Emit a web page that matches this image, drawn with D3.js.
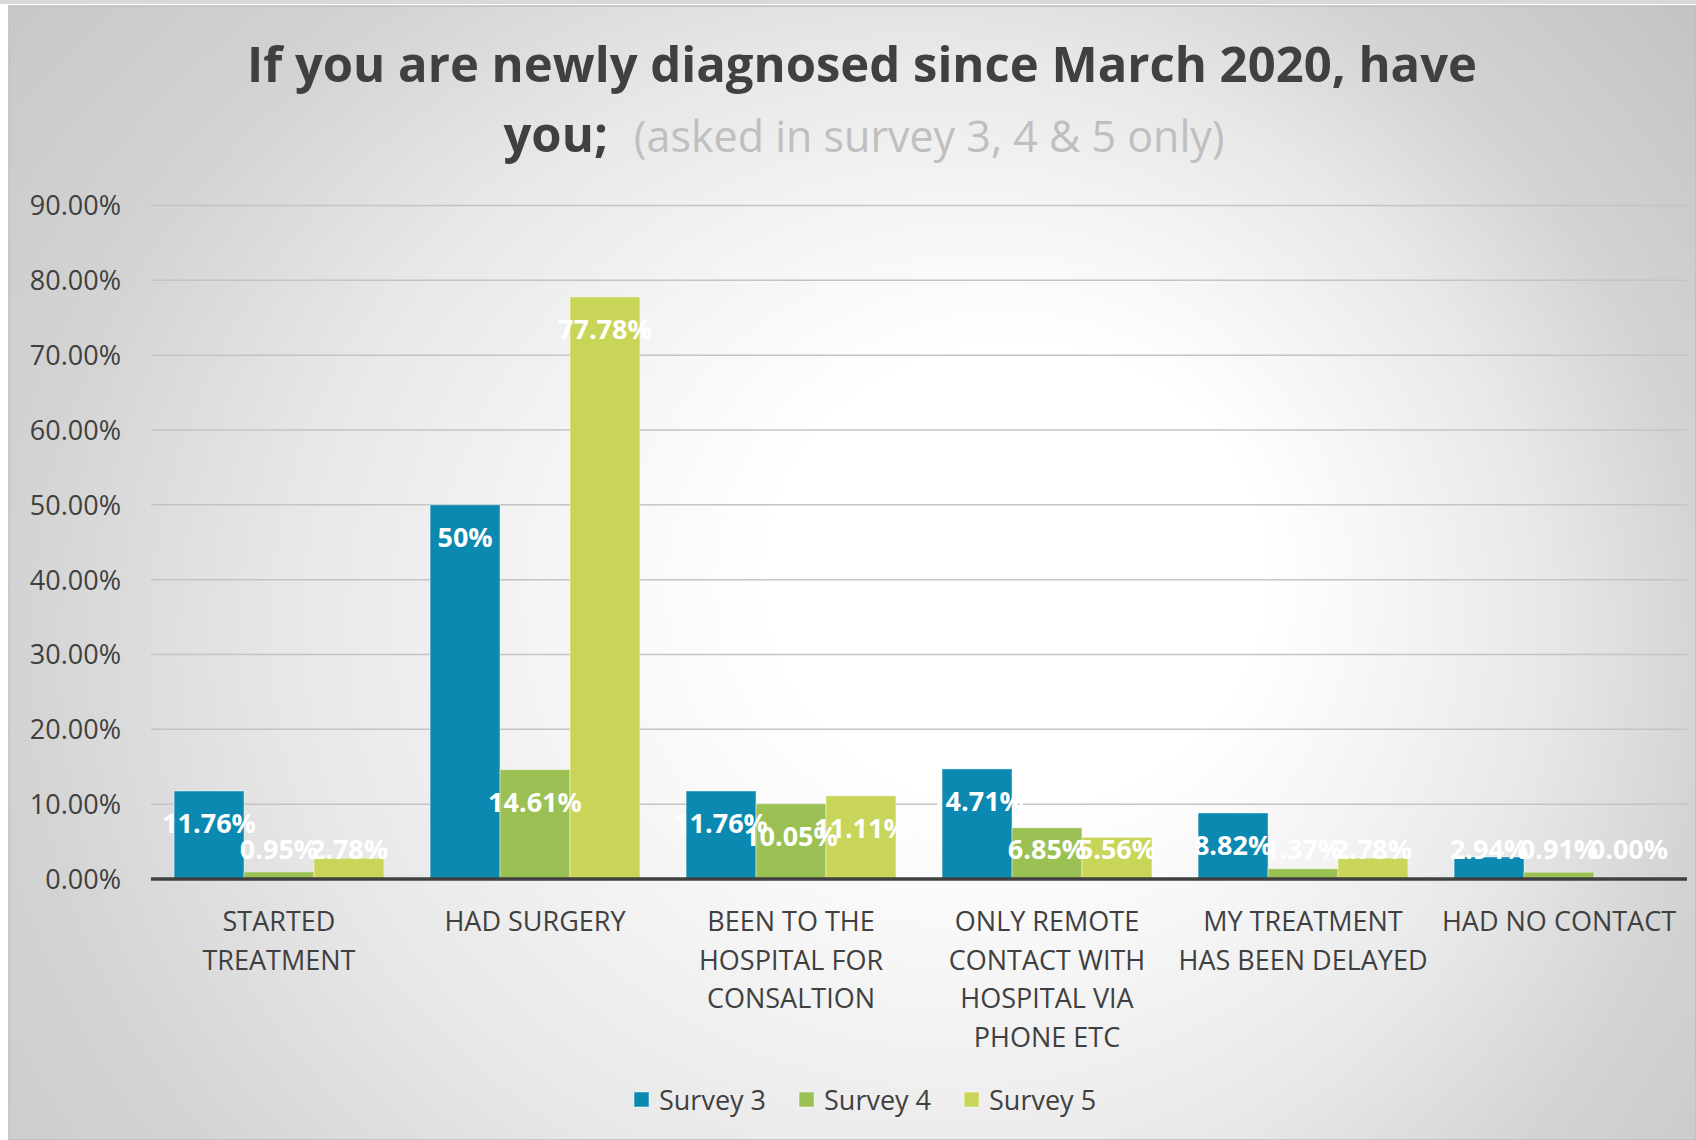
<!DOCTYPE html>
<html>
<head>
<meta charset="utf-8">
<script src="https://cdn.jsdelivr.net/npm/d3@7"></script>
<style>
  html, body { margin: 0; padding: 0; background: #ffffff; }
  svg text { font-family: "Open Sans", "Noto Sans", sans-serif; }
</style>
</head>
<body>
<svg id="chart" width="1696" height="1140"></svg>
<script>
// ---- data (percent values, kept as the strings shown on the labels) ----
const CATEGORIES = ['STARTED TREATMENT', 'HAD SURGERY', 'BEEN TO THE HOSPITAL FOR CONSALTION',
                    'ONLY REMOTE CONTACT WITH HOSPITAL VIA PHONE ETC', 'MY TREATMENT HAS BEEN DELAYED', 'HAD NO CONTACT'];
const SERIES = ['Survey 3', 'Survey 4', 'Survey 5'];
const SURVEY_3 = ['11.76', '50', '11.76', '14.71', '8.82', '2.94'];
const SURVEY_4 = ['0.95', '14.61', '10.05', '6.85', '1.37', '0.91'];
const SURVEY_5 = ['2.78', '77.78', '11.11', '5.56', '2.78', '0.00'];
const Y_TICKS = [0, 10, 20, 30, 40, 50, 60, 70, 80, 90];
const COLORS = ['#0B89B1', '#9BC154', '#C9D559'];

const W = 1696, H = 1140;
const svg = d3.select('#chart');

// background: off-centre radial light, bright spot right of middle
var defs = svg.append('defs');
var grad = defs.append('radialGradient').attr('id', 'bg')
  .attr('gradientUnits', 'userSpaceOnUse')
  .attr('cx', 760).attr('cy', 715).attr('r', 1250)
  .attr('fx', 1080).attr('fy', 525)
  .attr('gradientTransform', 'translate(760,715) scale(1,0.924) translate(-760,-715)');
[[0, '#ffffff'], [0.2, '#ffffff'], [0.35, '#f4f4f4'], [0.5, '#e8e8e8'], [0.68, '#d3d3d3'], [1, '#c0c0c0']]
  .forEach(s => grad.append('stop').attr('offset', s[0]).attr('stop-color', s[1]));

svg.append('rect').attr('x', 0).attr('y', 0).attr('width', W).attr('height', 4).attr('fill', '#d9d9d9');
svg.append('rect').attr('x', 9).attr('y', 6).attr('width', W - 9).attr('height', H - 6)
  .attr('fill', 'url(#bg)').attr('stroke', '#bdbdbd').attr('stroke-width', 1.5);

// ---- scales ----
var margin = {top: 205.5, left: 151, right: 9, bottom: 261};
var x0 = d3.scaleBand().domain(CATEGORIES).range([margin.left, W - margin.right]).paddingInner(0).paddingOuter(0);
var x1 = d3.scaleBand().domain(SERIES).range([0, x0.bandwidth()]).paddingOuter(0.33).paddingInner(0);
var y = d3.scaleLinear().domain([0, 90]).range([H - margin.bottom, margin.top]);

var data = CATEGORIES.map((c, i) => ({
  cat: c,
  vals: [SURVEY_3[i], SURVEY_4[i], SURVEY_5[i]].map((s, k) => ({series: SERIES[k], k: k, value: +s, label: s + '%'}))
}));

// gridlines
svg.append('g').selectAll('line').data(Y_TICKS.filter(d => d > 0)).enter()
  .append('line')
  .attr('x1', margin.left).attr('x2', W - margin.right)
  .attr('y1', d => y(d)).attr('y2', d => y(d))
  .attr('stroke', '#c4c4c4').attr('stroke-width', 1.5);

// y axis labels
var yAxis = svg.append('g').attr('transform', 'translate(121,0)')
  .call(d3.axisLeft(y).tickValues(Y_TICKS).tickSize(0).tickPadding(0).tickFormat(d => d.toFixed(2) + '%'));
yAxis.select('.domain').remove();
yAxis.selectAll('text').attr('fill', '#404040').style('font-size', '27px').attr('dy', '0.35em');

// bars
var groups = svg.append('g').selectAll('g').data(data).enter()
  .append('g').attr('transform', d => 'translate(' + x0(d.cat) + ',0)');

groups.selectAll('rect').data(d => d.vals).enter()
  .append('rect')
  .attr('x', d => x1(d.series))
  .attr('width', x1.bandwidth())
  .attr('y', d => y(d.value))
  .attr('height', d => y(0) - y(d.value))
  .attr('fill', d => COLORS[d.k])
  .attr('stroke', 'rgba(255,255,255,0.45)')
  .attr('stroke-width', d => d.value > 0 ? 1 : 0);

// x axis line
svg.append('line')
  .attr('x1', margin.left).attr('x2', W - margin.right)
  .attr('y1', y(0)).attr('y2', y(0))
  .attr('stroke', '#404040').attr('stroke-width', 3.5);

// data labels (inside end, kept above the axis)
groups.selectAll('text.lbl').data(d => d.vals).enter()
  .append('text').attr('class', 'lbl')
  .attr('x', d => x1(d.series) + x1.bandwidth() / 2)
  .attr('y', d => Math.min(y(d.value) + 42, y(0) - 20))
  .attr('text-anchor', 'middle')
  .attr('fill', '#ffffff')
  .style('font-size', '27px').style('font-weight', 700)
  .text(d => d.label);

// category labels, wrapped to the band width
var catLabels = svg.append('g').selectAll('text').data(CATEGORIES).enter()
  .append('text')
  .attr('x', d => x0(d) + x0.bandwidth() / 2)
  .attr('y', 931)
  .attr('text-anchor', 'middle')
  .attr('fill', '#404040')
  .style('font-size', '27px');

catLabels.each(function(d) {
  var el = d3.select(this);
  var words = d.split(' '), line = [], lines = [];
  var probe = el.append('tspan');
  words.forEach(w => {
    line.push(w);
    probe.text(line.join(' '));
    if (probe.node().getComputedTextLength() > x0.bandwidth() - 4 && line.length > 1) {
      line.pop();
      lines.push(line.join(' '));
      line = [w];
    }
  });
  lines.push(line.join(' '));
  probe.remove();
  var cx = +el.attr('x');
  lines.forEach((l, i) => {
    el.append('tspan').attr('x', cx).attr('dy', i === 0 ? 0 : 38.5).text(l);
  });
});

// title
svg.append('text')
  .attr('x', 862).attr('y', 82)
  .attr('text-anchor', 'middle')
  .attr('fill', '#404040')
  .style('font-size', '49px').style('font-weight', 700)
  .text('If you are newly diagnosed since March 2020, have');

var t2 = svg.append('text')
  .attr('x', 864).attr('y', 152)
  .attr('text-anchor', 'middle');
t2.append('tspan').attr('fill', '#404040').style('font-size', '49px').style('font-weight', 700).text('you;');
t2.append('tspan').attr('fill', '#bfbfbf').attr('dx', 26).style('font-size', '43px').text('(asked in survey 3, 4 & 5 only)');

// legend
var legend = svg.append('g').attr('transform', 'translate(634,1092)');
var lx = 0;
SERIES.forEach((s, i) => {
  var g = legend.append('g').attr('transform', 'translate(' + lx + ',0)');
  g.append('rect').attr('width', 15).attr('height', 15).attr('fill', COLORS[i])
    .attr('stroke', 'rgba(255,255,255,0.5)').attr('stroke-width', 1);
  var t = g.append('text').attr('x', 25).attr('y', 17.5).attr('fill', '#404040')
    .style('font-size', '27px').text(s);
  lx += 25 + t.node().getComputedTextLength() + 33;
});
</script>
</body>
</html>
